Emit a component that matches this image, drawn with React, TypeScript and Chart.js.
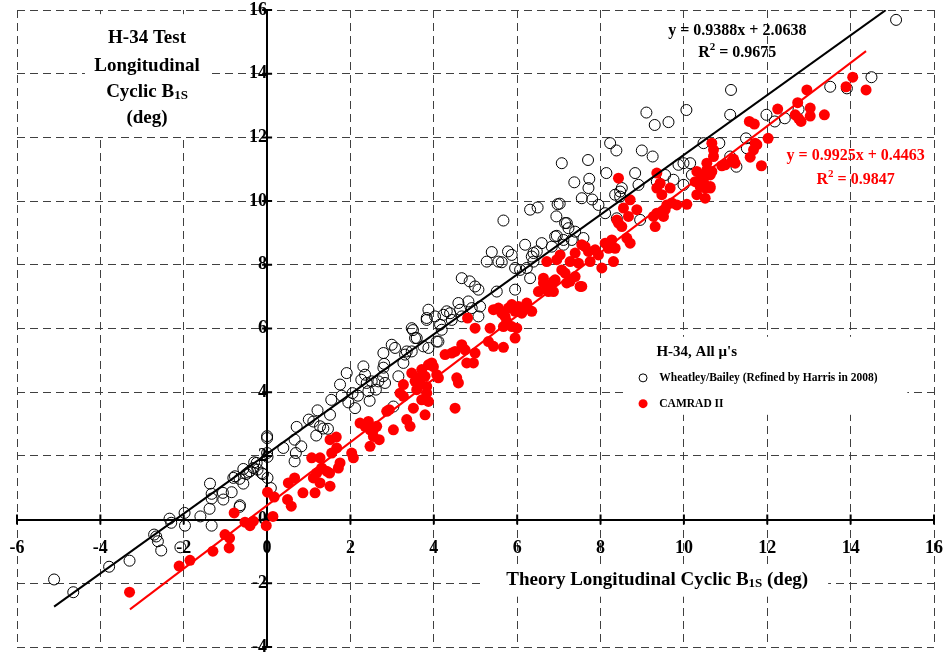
import React, { useEffect, useRef } from "react";
import { Chart, registerables } from "chart.js";

Chart.register(...registerables);

const FONT = '"Liberation Serif", "Times New Roman", serif';

const xTicks = [-6, -4, -2, 0, 2, 4, 6, 8, 10, 12, 14, 16];
const yTicks = [-4, -2, 0, 2, 4, 6, 8, 10, 12, 14, 16];

// Wheatley/Bailey (Refined by Harris in 2008): [theory, test]
const wheatley: [number, number][] = [
  [-5.11, -1.88], [-4.65, -2.28], [-3.79, -1.48], [-3.3, -1.29], [-2.71, -0.47], [-2.66, -0.53],
  [-2.62, -0.68], [-2.54, -0.97], [-2.34, 0.03], [-2.3, -0.1], [-1.98, 0.21], [-1.97, -0.19],
  [-2.08, -0.87], [-1.6, 0.1], [-1.38, 0.34], [-1.33, -0.19], [-1.37, 1.13], [-1.33, 0.81],
  [-1.33, 0.66], [-1.06, 0.84], [-1.05, 0.63], [-0.85, 0.86], [-0.66, 0.4], [-0.81, 1.31],
  [-0.66, 1.28], [-0.57, 1.13], [-0.57, 1.59], [-0.5, 1.43], [-0.41, 1.52], [-0.31, 1.8],
  [-0.23, 1.57], [-0.13, 1.46], [0, 2.56], [0, 2.62], [0, 2.09], [0.01, 1.97], [0.01, 1.31],
  [0.09, 0.99], [-0.65, 0.45], [-0.77, 1.36], [-0.45, 1.48], [-0.33, 1.62], [-0.25, 1.78],
  [-0.1, 1.43], [0.39, 2.25], [0.66, 2.51], [0.69, 2.09], [0.71, 2.91], [0.82, 2.3], [0.66, 1.83],
  [1.0, 3.14], [1.11, 3.08], [1.21, 3.43], [1.18, 2.64], [1.27, 2.93], [1.35, 2.86], [1.46, 2.85],
  [1.51, 3.29], [1.54, 3.76], [1.75, 4.24], [1.79, 3.89], [1.91, 4.6], [1.95, 3.68], [2.05, 3.97],
  [2.11, 3.5], [2.18, 3.89], [2.26, 4.39], [2.31, 4.81], [2.35, 4.55], [2.39, 4.29], [2.43, 4.03],
  [2.46, 3.73], [2.51, 4.34], [2.61, 4.08], [2.67, 4.34], [2.78, 4.5], [2.81, 4.89], [2.83, 4.29],
  [2.79, 5.23], [2.99, 5.49], [3.07, 5.39], [3.15, 4.5], [3.03, 3.55], [3.27, 4.92], [3.31, 5.18],
  [3.35, 5.28], [3.47, 5.28], [3.55, 5.7], [3.47, 6.01], [3.5, 5.95], [3.75, 5.44], [3.87, 5.39],
  [3.83, 6.27], [4.07, 5.59], [2.79, 4.77], [3.59, 5.7], [3.87, 6.59], [3.83, 6.33], [4.03, 6.38],
  [4.11, 5.59], [4.15, 6.12], [4.19, 5.96], [4.23, 6.43], [4.31, 6.54], [4.39, 6.48], [4.43, 6.27],
  [4.59, 6.8], [4.63, 6.59], [4.67, 7.58], [4.67, 6.38], [4.83, 6.85], [4.86, 7.48], [4.91, 6.64],
  [4.99, 7.32], [5.07, 7.22], [5.07, 6.38], [5.11, 6.69], [5.27, 8.1], [5.39, 8.4], [5.51, 7.16],
  [5.55, 8.1], [5.63, 8.08], [5.78, 8.42], [5.87, 8.31], [5.95, 7.22], [5.95, 7.9], [6.07, 7.84],
  [6.19, 8.63], [6.23, 7.9], [6.35, 8.26], [6.39, 8.1], [6.47, 8.42], [6.59, 8.68], [6.83, 8.57],
  [6.91, 8.89], [7.11, 8.78], [7.15, 9.31], [7.23, 9.15], [7.31, 8.78], [7.39, 9.04], [5.67, 9.39],
  [9.1, 12.78], [9.3, 12.39], [9.63, 12.48], [10.06, 12.86], [8.23, 11.82], [8.38, 11.59],
  [8.99, 11.59], [9.25, 11.4], [7.07, 11.19], [7.7, 11.29], [7.37, 10.59], [7.73, 10.7],
  [7.71, 10.41], [7.55, 10.09], [7.8, 10.05], [8.14, 10.88], [7.95, 9.88], [8.83, 10.88],
  [8.91, 10.51], [8.51, 10.41], [8.35, 10.2], [6.31, 9.73], [6.49, 9.8], [6.97, 9.9], [7.02, 9.92],
  [6.94, 9.52], [7.19, 9.31], [6.95, 8.91], [7.59, 8.84], [6.39, 8.37], [7.11, 8.63], [6.31, 7.58],
  [8.11, 9.62], [8.39, 9.46], [8.95, 9.41], [9.35, 10.61], [9.55, 10.82], [9.75, 10.67],
  [9.87, 11.14], [9.99, 11.19], [10.15, 11.19], [9.99, 10.51], [10.19, 10.82], [10.47, 11.82],
  [8.47, 10.14], [8.47, 10.3], [11.13, 13.49], [11.11, 12.71], [11.98, 12.71], [12.18, 12.5],
  [12.42, 12.6], [12.75, 12.88], [13.51, 13.59], [13.91, 13.54], [14.5, 13.89], [10.85, 11.82],
  [11.49, 11.97], [11.51, 11.66], [11.11, 11.4], [11.26, 11.08], [15.09, 15.69],
];

// CAMRAD II: [theory, test]
const camrad: [number, number][] = [
  [-3.3, -2.28], [-2.11, -1.46], [-1.85, -1.28], [-1.3, -0.99], [-1.01, -0.47], [-0.9, -0.58],
  [-0.91, -0.89], [-0.79, 0.21], [-0.53, -0.08], [-0.41, -0.19], [-0.33, -0.05], [-0.02, -0.19],
  [0.01, 0.86], [0.14, 0.1], [0.17, 0.71], [0.49, 0.63], [0.58, 0.42], [0.51, 1.15], [0.66, 1.31],
  [0.86, 0.84], [1.15, 0.84], [1.07, 1.94], [1.27, 1.94], [1.11, 1.31], [1.19, 1.46], [1.27, 1.15],
  [1.31, 1.62], [1.43, 1.52], [1.5, 1.46], [1.51, 1.05], [1.51, 2.51], [1.66, 2.59], [1.55, 2.09],
  [1.67, 2.25], [1.75, 1.78], [1.71, 1.62], [2.03, 2.09], [2.07, 1.94], [2.23, 3.03], [2.35, 2.93],
  [2.43, 3.08], [2.47, 2.82], [2.55, 2.82], [2.63, 2.93], [2.47, 2.3], [2.55, 2.61], [2.69, 2.51],
  [2.93, 3.45], [3.03, 2.82], [3.27, 3.87], [3.35, 3.14], [3.43, 2.93], [3.27, 4.24], [3.47, 4.6],
  [3.55, 4.34], [3.59, 4.08], [3.67, 4.29], [3.71, 4.71], [3.79, 4.5], [3.83, 4.18], [3.87, 3.71],
  [3.79, 3.29], [3.95, 4.92], [3.51, 3.5], [3.71, 3.76], [4.07, 4.55], [2.87, 3.4], [3.19, 3.97],
  [3.59, 4.45], [3.87, 4.86], [3.99, 4.8], [3.83, 3.97], [4.11, 4.45], [4.51, 3.5], [4.55, 4.45],
  [4.59, 4.29], [4.27, 5.18], [4.43, 5.23], [4.51, 5.28], [4.67, 5.49], [4.75, 5.33], [4.79, 4.92],
  [4.95, 4.92], [4.99, 5.23], [4.81, 6.33], [4.99, 6.01], [5.31, 5.59], [5.43, 5.44], [5.67, 5.41],
  [5.35, 6.01], [5.43, 6.59], [5.55, 6.64], [5.63, 6.48], [5.71, 6.38], [5.79, 6.64], [5.87, 6.75],
  [5.95, 6.54], [6.03, 6.69], [6.11, 6.48], [6.19, 6.64], [5.75, 6.22], [5.87, 6.06], [5.99, 6.01],
  [5.95, 5.7], [6.35, 6.54], [5.67, 6.06], [6.51, 7.16], [6.63, 7.58], [6.71, 7.22], [6.79, 7.37],
  [6.91, 7.53], [6.95, 8.16], [6.87, 7.16], [7.03, 8.31], [7.15, 7.74], [7.27, 7.48], [7.39, 8.37],
  [7.51, 7.32], [7.07, 7.84], [8.43, 10.72], [6.23, 6.8], [6.63, 7.43], [6.75, 7.16], [6.71, 8.1],
  [6.87, 7.48], [7.19, 7.43], [7.27, 8.1], [7.39, 7.63], [7.47, 8.05], [7.55, 7.32], [7.63, 8.57],
  [7.55, 8.63], [7.71, 8.42], [7.75, 8.1], [7.87, 8.47], [7.95, 8.31], [8.03, 7.9], [8.11, 8.68],
  [8.19, 8.52], [8.27, 8.78], [8.31, 8.1], [8.35, 8.52], [8.43, 9.31], [8.39, 9.41], [8.51, 9.2],
  [8.55, 9.78], [8.67, 9.52], [8.71, 10.04], [8.87, 9.73], [8.71, 8.68], [8.63, 8.84], [9.35, 10.88],
  [9.43, 10.56], [9.35, 10.41], [9.67, 10.41], [9.47, 10.2], [9.59, 9.88], [9.71, 9.94], [9.83, 9.88],
  [9.55, 9.73], [9.51, 9.52], [9.35, 9.62], [9.27, 9.52], [9.31, 9.2], [10.07, 9.9], [10.31, 10.93],
  [10.39, 10.67], [10.47, 10.77], [10.55, 10.98], [10.67, 10.93], [10.51, 10.41], [10.63, 10.41],
  [10.31, 10.2], [10.51, 10.09], [10.71, 11.4], [10.67, 11.82], [10.71, 11.61], [10.55, 11.19],
  [14.05, 13.89], [13.89, 13.59], [14.37, 13.49], [12.95, 13.49], [13.03, 12.92], [13.03, 12.67],
  [12.73, 13.09], [13.37, 12.71], [12.67, 12.71], [12.75, 12.6], [12.81, 12.5], [12.25, 12.89],
  [11.57, 12.5], [11.69, 12.42], [12.02, 11.97], [11.71, 11.82], [11.75, 11.77], [11.67, 11.61],
  [11.59, 11.38], [11.86, 11.11], [11.19, 11.32], [11.23, 11.19], [10.91, 11.11], [10.99, 11.14],
  [10.63, 10.82], [10.47, 10.61], [10.39, 10.46], [10.63, 10.46], [10.27, 10.61], [11.14, 11.24],
];

// Linear fits: [slope, intercept] and x extent
const wheatleyFitCoef = [0.9388, 2.0638];
const wheatleyFitX = [-5.11, 14.84];
const camradFitCoef = [0.9925, 0.4463];
const camradFitX = [-3.29, 14.37];

type Run = [string, number, number];

function drawRuns(ctx: CanvasRenderingContext2D, runs: Run[], x: number, y: number, align: "center" | "left", color: string) {
  let total = 0;
  for (const r of runs) {
    ctx.font = `bold ${r[1]}px ${FONT}`;
    total += ctx.measureText(r[0]).width;
  }
  let cx = align === "center" ? x - total / 2 : x;
  ctx.fillStyle = color;
  ctx.textAlign = "left";
  ctx.textBaseline = "middle";
  for (const r of runs) {
    ctx.font = `bold ${r[1]}px ${FONT}`;
    ctx.fillText(r[0], cx, y + r[2]);
    cx += ctx.measureText(r[0]).width;
  }
}

const annotations = {
  id: "annotations",
  beforeDatasetsDraw(chart: any) {
    const { ctx } = chart;
    const xs = chart.scales.x;
    const ys = chart.scales.y;
    const px = (v: number) => xs.getPixelForValue(v);
    const py = (v: number) => ys.getPixelForValue(v);
    ctx.save();
    ctx.fillStyle = "#ffffff";
    const boxes = [
      [-4.37, 15.87, -1.37, 12.05],
      [5.18, -1.47, 13.46, -2.42],
      [8.54, 5.74, 15.36, 3.29],
    ];
    for (const b of boxes) {
      ctx.fillRect(px(b[0]), py(b[1]), px(b[2]) - px(b[0]), py(b[3]) - py(b[1]));
    }
    const x0 = px(0);
    const y0 = py(0);
    ctx.strokeStyle = "#000";
    ctx.lineWidth = 2;
    ctx.beginPath();
    for (const t of xTicks) {
      const p = px(t);
      ctx.moveTo(p, y0 - 5);
      ctx.lineTo(p, y0 + 5);
    }
    for (const t of yTicks) {
      const p = py(t);
      ctx.moveTo(x0 - 5, p);
      ctx.lineTo(x0 + 5, p);
    }
    ctx.stroke();
    ctx.restore();
  },
  afterDraw(chart: any) {
    const { ctx } = chart;
    const xs = chart.scales.x;
    const ys = chart.scales.y;
    const px = (v: number) => xs.getPixelForValue(v);
    const py = (v: number) => ys.getPixelForValue(v);
    ctx.save();
    const tx = px(-2.88);
    drawRuns(ctx, [["H-34 Test", 19, 0]], tx, py(15.12), "center", "#000");
    drawRuns(ctx, [["Longitudinal", 19, 0]], tx, py(14.24), "center", "#000");
    drawRuns(ctx, [["Cyclic B", 19, 0], ["1S", 13, 4]], tx, py(13.43), "center", "#000");
    drawRuns(ctx, [["(deg)", 19, 0]], tx, py(12.61), "center", "#000");
    drawRuns(ctx, [["Theory Longitudinal Cyclic B", 19, 0], ["1S", 13, 4], [" (deg)", 19, 0]], px(9.36), py(-1.9), "center", "#000");
    drawRuns(ctx, [["y = 0.9388x + 2.0638", 16, 0]], px(11.28), py(15.34), "center", "#000");
    drawRuns(ctx, [["R", 16, 0], ["2", 11, -6], [" = 0.9675", 16, 0]], px(11.28), py(14.66), "center", "#000");
    drawRuns(ctx, [["y = 0.9925x + 0.4463", 16, 0]], px(14.12), py(11.42), "center", "#ff0000");
    drawRuns(ctx, [["R", 16, 0], ["2", 11, -6], [" = 0.9847", 16, 0]], px(14.12), py(10.67), "center", "#ff0000");
    drawRuns(ctx, [["H-34, All \u03bc's", 15, 0]], px(9.34), py(5.27), "left", "#000");
    drawRuns(ctx, [["Wheatley/Bailey (Refined by Harris in 2008)", 11.5, 0]], px(9.41), py(4.45), "left", "#000");
    drawRuns(ctx, [["CAMRAD II", 11.5, 0]], px(9.41), py(3.64), "left", "#000");
    ctx.beginPath();
    ctx.arc(px(9.02), py(4.45), 4, 0, Math.PI * 2);
    ctx.strokeStyle = "#000";
    ctx.lineWidth = 1;
    ctx.stroke();
    ctx.beginPath();
    ctx.arc(px(9.02), py(3.64), 4.5, 0, Math.PI * 2);
    ctx.fillStyle = "#ff0000";
    ctx.fill();
    ctx.restore();
  },
};

const zeroPadding = (s: any) => {
  s.paddingLeft = 0;
  s.paddingRight = 0;
  s.paddingTop = 0;
  s.paddingBottom = 0;
};

export default function App() {
  const ref = useRef<HTMLCanvasElement | null>(null);
  useEffect(() => {
    if (!ref.current) return;
    const fitLine = (coef: number[], xr: number[]) => xr.map((x) => ({ x, y: coef[0] * x + coef[1] }));
    const tickFont = { family: FONT, weight: "bold" as const, size: 18, lineHeight: 1 };
    const chart = new Chart(ref.current, {
      type: "scatter",
      data: {
        datasets: [
          {
            type: "line",
            label: "Wheatley fit",
            data: fitLine(wheatleyFitCoef, wheatleyFitX),
            borderColor: "#000",
            borderWidth: 2,
            pointRadius: 0,
            showLine: true,
          } as any,
          {
            type: "line",
            label: "CAMRAD fit",
            data: fitLine(camradFitCoef, camradFitX),
            borderColor: "#ff0000",
            borderWidth: 2,
            pointRadius: 0,
            showLine: true,
          } as any,
          {
            label: "CAMRAD II",
            data: camrad.map(([x, y]) => ({ x, y })),
            backgroundColor: "#ff0000",
            borderColor: "#ff0000",
            borderWidth: 0,
            pointRadius: 5.5,
          },
          {
            label: "Wheatley/Bailey (Refined by Harris in 2008)",
            data: wheatley.map(([x, y]) => ({ x, y })),
            backgroundColor: "rgba(0,0,0,0)",
            borderColor: "#000",
            borderWidth: 1,
            pointRadius: 5.5,
          },
        ],
      },
      options: {
        animation: false,
        responsive: false,
        layout: { padding: { left: 17, right: 11, top: 10, bottom: 9 } },
        plugins: { legend: { display: false }, tooltip: { enabled: false } },
        scales: {
          x: {
            type: "linear",
            position: { y: 0 } as any,
            min: -6,
            max: 16,
            afterBuildTicks: (s: any) => {
              s.ticks = xTicks.map((v) => ({ value: v }));
            },
            afterFit: zeroPadding,
            grid: { color: "#404040", lineWidth: 1, drawTicks: false },
            border: { display: true, color: "#000", width: 2, dash: [8, 5] },
            ticks: { color: "#000", font: tickFont, padding: 20, maxRotation: 0, autoSkip: false },
          },
          y: {
            type: "linear",
            position: { x: 0 } as any,
            min: -4,
            max: 16,
            afterBuildTicks: (s: any) => {
              s.ticks = yTicks.map((v) => ({ value: v }));
            },
            afterFit: zeroPadding,
            grid: { color: "#404040", lineWidth: 1, drawTicks: false },
            border: { display: true, color: "#000", width: 2, dash: [8, 5] },
            ticks: { color: "#000", font: tickFont, padding: 10, autoSkip: false },
          },
        },
      },
      plugins: [annotations],
    });
    return () => chart.destroy();
  }, []);
  return (
    <div style={{ position: "absolute", left: 0, top: 0, width: 945, height: 656, background: "#fff" }}>
      <canvas ref={ref} width={945} height={656} style={{ display: "block" }} />
    </div>
  );
}
